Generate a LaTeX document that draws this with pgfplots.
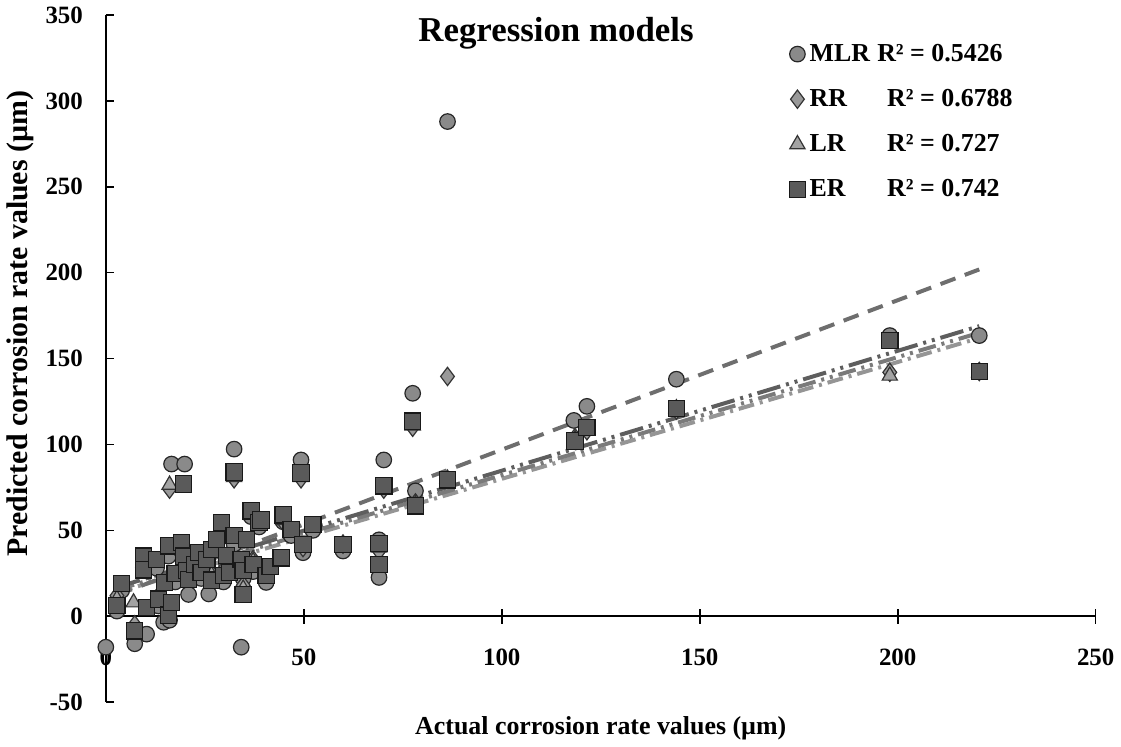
\documentclass[border=0pt]{standalone}
\usepackage{fontspec}
\setmainfont{Liberation Serif}
\usepackage{pgfplots}
\pgfplotsset{compat=1.18}

\definecolor{mlrfill}{HTML}{8A8A8A}
\definecolor{rrfill}{HTML}{999999}
\definecolor{lrfill}{HTML}{A3A3A3}
\definecolor{erfill}{HTML}{5A5A5A}
\definecolor{mlrline}{HTML}{6E6E6E}
\definecolor{erline}{HTML}{5E5E5E}
\definecolor{lrline}{HTML}{7A7A7A}
\definecolor{rrline}{HTML}{959595}

\begin{document}
\begin{tikzpicture}
  \begin{axis}[
      scale only axis,
      width=497pt, height=345pt,
      xmin=0, xmax=250, ymin=-50, ymax=350,
      axis x line=middle, axis y line=left,
      axis line style={-, line width=0.8pt},
      hide obscured x ticks=false,
      xtick={0,50,100,150,200,250},
      ytick={-50,0,50,100,150,200,250,300,350},
      xtick align=center, ytick align=inside,
      major tick length=4pt,
      tick style={line width=0.8pt, black},
      xtick style={/pgfplots/major tick length=7.5pt},
      tick label style={font=\fontsize{12.5}{14}\selectfont\bfseries},
      /pgf/number format/assume math mode=true,
      xticklabel style={yshift=-11pt},
      yticklabel style={xshift=-8pt},
      xlabel={Actual corrosion rate values (µm)},
      ylabel={Predicted corrosion rate values (µm)},
      xlabel style={font=\fontsize{13}{15}\selectfont\bfseries, at={(axis description cs:0.5,0)}, anchor=center, yshift=-13pt},
      ylabel style={font=\fontsize{15}{17}\selectfont\bfseries, at={(axis description cs:0,0.551)}, anchor=center, yshift=43pt},
      clip=false,
      legend style={draw=none, fill=none, at={(axis cs:171,338)}, anchor=north west,
        font=\fontsize{13}{15}\selectfont\bfseries, row sep=8.5pt},
      legend cell align=left,
      legend image code/.code={\draw[mark repeat=2,mark phase=2,#1] plot coordinates {(0pt,0pt)(4pt,0pt)(8pt,0pt)};},
    ]
    % MLR
    \addplot[only marks, mark=*, mark size=3.9pt, mark options={fill=mlrfill, draw=black!85, line width=0.6pt}]
      coordinates {
        (0,-18) (34.2,-18) (7.3,-16) (10.3,-10.4) (14.6,-3.5) (16.1,-2.3)
        (16.6,88.6) (19.9,88.6) (32.4,97.3) (49.3,91) (70.2,91) (77.5,129.8)
        (78.2,73) (86.3,288) (59.9,38) (69,44.5) (69,22.6) (118.2,114)
        (121.5,122.2) (144.1,138) (198,163.4) (220.6,163.4) (40.5,19.7)
        (49.8,37) (20.9,12.7) (26,13) (44.8,55) (38.7,52) (9.5,30) (12.8,28)
        (15.8,35) (19.1,38) (23.4,33) (27.9,40) (29.7,20) (32.4,42) (34.7,22)
        (37.2,26) (2.8,3) (4,15) (36.7,58) (46.8,47) (52.3,50) (30.5,30)
        (24.1,22) (17.5,20) (13.3,6)
      };
    \addlegendentry{\makebox[34pt][l]{MLR}R² = 0.5426}
    % RR
    \addplot[only marks, mark=diamond*, mark size=4.6pt, mark options={fill=rrfill, draw=black!80, line width=0.6pt}]
      coordinates {
        (2.8,12) (7.3,-5) (9.5,30) (13.3,12) (15.8,5) (16.1,74) (19.6,30)
        (23.4,34) (26.7,25) (29.7,27) (32.4,80) (34.7,18) (37.2,33) (40.5,26)
        (44.8,55) (49.3,80) (49.8,40) (59.9,42) (69,38) (70.2,74) (77.5,110)
        (78.2,66) (86.3,139.6) (118.5,104) (121.5,108) (144.1,120) (198,142)
        (220.6,142.5)
      };
    \addlegendentry{\makebox[39pt][l]{RR}R² = 0.6788}
    % LR
    \addplot[only marks, mark=triangle*, mark size=4.4pt, mark options={fill=lrfill, draw=black!80, line width=0.6pt}]
      coordinates {
        (2.8,10) (7,8) (9.5,31) (13.3,11) (15.8,4) (16.1,76.5) (19.6,31)
        (23.4,35) (26.7,24) (29.7,26) (32.4,81) (34.7,16) (37.2,32) (40.5,25)
        (44.8,56) (49.3,81) (49.8,40) (59.9,42) (69,40) (70.2,74) (77.5,111)
        (78.2,65) (86.3,80) (118.5,103) (121.5,109) (144.1,121) (198,140)
        (220.6,142)
      };
    \addlegendentry{\makebox[39pt][l]{LR}R² = 0.727}
    % ER
    \addplot[only marks, mark=square*, mark size=4.1pt, mark options={fill=erfill, draw=black!90, line width=0.6pt}]
      coordinates {
        (2.8,6.4) (4,19) (7.3,-8.5) (9.5,35) (9.5,27) (10.3,5.2) (12.8,33)
        (13.3,10) (14.8,19.7) (15.8,41) (15.8,0.6) (16.6,8) (17.5,25)
        (19.1,43) (19.6,77) (19.6,35) (20.4,26.7) (20.9,21.4) (22.5,30)
        (23.4,37) (24.1,25.5) (25.5,33) (26.7,21) (26.7,39) (27.9,44.6)
        (29.2,54.5) (29.7,23.8) (30.5,35.3) (31.2,25.5) (32.4,47) (32.4,84)
        (34.2,33) (34.7,12.7) (34.7,26.7) (35.5,44.6) (36.7,61.4) (37.2,30)
        (38.7,54.5) (39.2,56) (40.5,23.8) (41.5,29) (44.3,34) (44.8,59)
        (46.8,50.4) (49.3,83.4) (49.8,41.7) (52.3,53.3) (59.9,41.7) (69,42.3)
        (69,30) (70.2,75.9) (77.5,113.6) (78.2,64.3) (86.3,79.4) (118.5,102)
        (121.5,110) (144.1,121) (198,160.5) (220.6,142.5)
      };
    \addlegendentry{\makebox[39pt][l]{ER}R² = 0.742}
    % trend lines
    \addplot[forget plot, rrline, line width=2pt, dash pattern=on 8pt off 3pt on 1.5pt off 3pt]
      coordinates {(2.8,13.9) (220.6,162)};
    \addplot[forget plot, lrline, line width=2pt, dash pattern=on 9pt off 3pt on 1.5pt off 3pt on 1.5pt off 3pt]
      coordinates {(2.8,15.4) (220.6,165)};
    \addplot[forget plot, erline, line width=2pt, dash pattern=on 12pt off 3pt on 1.5pt off 3pt on 1.5pt off 3pt]
      coordinates {(2.8,16.9) (220.6,168.9)};
    \addplot[forget plot, mlrline, line width=2pt, dash pattern=on 8pt off 5pt]
      coordinates {(2.8,12.4) (220.6,201.9)};
    \node[font=\fontsize{17.5}{19}\selectfont\bfseries] at (axis cs:113.7,339.5) {Regression models};
  \end{axis}
\end{tikzpicture}
\end{document}
